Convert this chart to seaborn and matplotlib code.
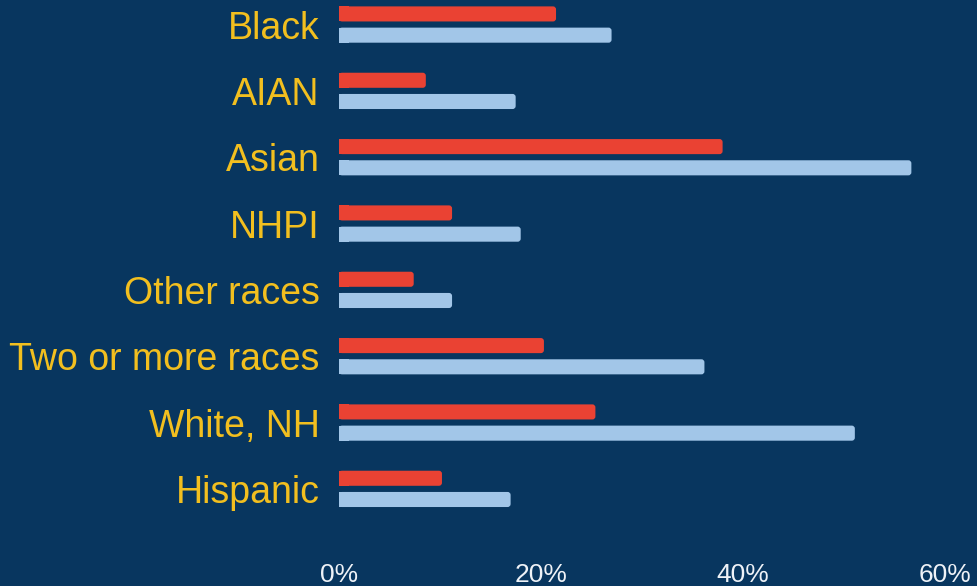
import pandas as pd
import matplotlib.pyplot as plt
import seaborn as sns
from matplotlib.patches import FancyBboxPatch, Rectangle
from matplotlib.ticker import PercentFormatter

# data
groups = ['Black', 'AIAN', 'Asian', 'NHPI', 'Other races', 'Two or more races', 'White, NH', 'Hispanic']
series_red = [21.5, 8.6, 38.0, 11.2, 7.4, 20.3, 25.4, 10.2]
series_blue = [27.0, 17.5, 56.7, 18.0, 11.2, 36.2, 51.1, 17.0]
series_names = ['Series A', 'Series B']
xticks = [0, 20, 40, 60]

bg = '#08365F'
red = '#EA4233'
blue = '#A2C6E8'
yellow = '#F2BF1F'

df = pd.DataFrame({
    'group': groups * 2,
    'value': series_red + series_blue,
    'series': [series_names[0]] * len(groups) + [series_names[1]] * len(groups),
})

sns.set_style('white')
plt.rcParams['font.family'] = ['Liberation Sans', 'DejaVu Sans']

fig = plt.figure(figsize=(9.78, 5.86), dpi=100, facecolor=bg)
ax = fig.add_axes([339 / 978, 56 / 586, (978 - 339) / 978, 530 / 586])
ax.set_facecolor(bg)

sns.barplot(data=df, x='value', y='group', hue='series', order=groups,
            palette=[red, blue], saturation=1, orient='h', width=0.64, gap=0.29,
            legend=False, ax=ax)

ax.set_xlim(0, 63.3)
ax.set_ylim(7.62, -0.37)

# swap the flat bars for ones with a rounded right end
aspect = (1 / 66.3) / (1 / 10.1)
for p in list(ax.patches):
    x, y = p.get_x(), p.get_y()
    w, h = p.get_width(), p.get_height()
    c = p.get_facecolor()
    p.remove()
    ax.add_patch(FancyBboxPatch((x, y), w, h, boxstyle='round,pad=0,rounding_size=0.3',
                                mutation_aspect=aspect, fc=c, ec='none', lw=0))
    ax.add_patch(Rectangle((x, y), min(w / 2, 1), h, fc=c, ec='none', lw=0))

ax.set_xticks(xticks)
ax.xaxis.set_major_formatter(PercentFormatter(decimals=0))
ax.tick_params(axis='x', length=0, pad=24, labelsize=19, labelcolor='#EEF2F7')
ax.tick_params(axis='y', length=0, pad=14, labelsize=27, labelcolor=yellow)
for lab in ax.get_xticklabels():
    lab.set_fontfamily(['Liberation Sans Narrow', 'Liberation Sans'])
ax.set_xlabel('')
ax.set_ylabel('')
sns.despine(ax=ax, left=True, bottom=True)

fig.savefig('out.png', dpi=100, facecolor=bg)
